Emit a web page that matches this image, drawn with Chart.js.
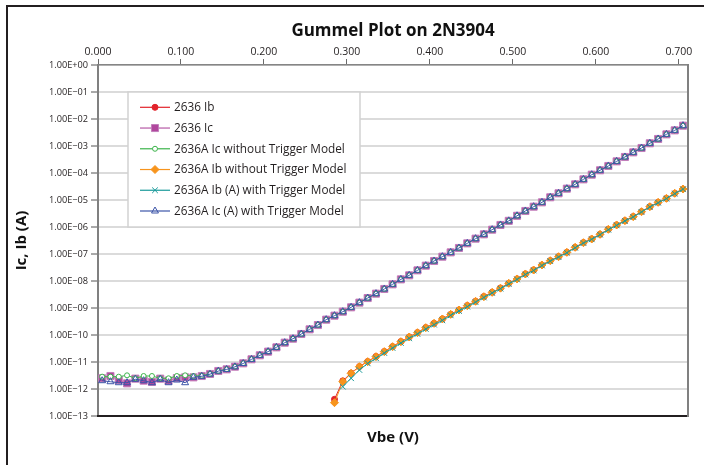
<!DOCTYPE html>
<html><head><meta charset="utf-8">
<script src="https://cdn.jsdelivr.net/npm/chart.js@4.4.1/dist/chart.umd.min.js"></script>
<style>
html,body{margin:0;padding:0;background:#fff;overflow:hidden;width:704px;height:465px;}
#frame{position:absolute;left:6px;top:5px;width:1000px;height:1000px;border:2.5px solid #231f20;box-sizing:border-box;}
#c{position:absolute;left:0;top:0;}
</style></head><body>
<div id="frame"></div>
<canvas id="c" width="704" height="465"></canvas>
<script>
const vbe = [0.005,0.015,0.025,0.035,0.045,0.055,0.065,0.075,0.085,0.095,
  0.105,0.115,0.125,0.135,0.145,0.155,0.165,0.175,0.185,0.195,
  0.205,0.215,0.225,0.235,0.245,0.255,0.265,0.275,0.285,0.295,
  0.305,0.315,0.325,0.335,0.345,0.355,0.365,0.375,0.385,0.395,
  0.405,0.415,0.425,0.435,0.445,0.455,0.465,0.475,0.485,0.495,
  0.505,0.515,0.525,0.535,0.545,0.555,0.565,0.575,0.585,0.595,
  0.605,0.615,0.625,0.635,0.645,0.655,0.665,0.675,0.685,0.695,0.705];

const ib2636 = [null,null,null,null,null,null,null,null,null,null,
  null,null,null,null,null,null,null,null,null,null,
  null,null,null,null,null,null,null,null,4.15e-13,2.0e-12,
  3.9e-12,6.8e-12,1.04e-11,1.6e-11,2.45e-11,3.72e-11,5.7e-11,8.5e-11,1.23e-10,1.88e-10,
  2.72e-10,3.95e-10,5.85e-10,8.5e-10,1.23e-9,1.78e-9,2.65e-9,3.82e-9,5.45e-9,8.2e-9,
  1.2e-8,1.82e-8,2.56e-8,3.92e-8,5.68e-8,8.0e-8,1.16e-7,1.77e-7,2.64e-7,3.62e-7,
  5.36e-7,8.2e-7,1.19e-6,1.72e-6,2.43e-6,3.7e-6,5.66e-6,8.2e-6,1.15e-5,1.77e-5,2.56e-5];

const ic2636 = [2.49e-12,3.03e-12,2.15e-12,1.62e-12,2.42e-12,2.04e-12,1.82e-12,2.42e-12,2.04e-12,2.55e-12,
  2.70e-12,2.70e-12,3.03e-12,3.60e-12,4.65e-12,5.35e-12,6.71e-12,8.93e-12,1.26e-11,1.77e-11,
  2.42e-11,3.49e-11,5.20e-11,7.31e-11,1.09e-10,1.62e-10,2.34e-10,3.70e-10,5.20e-10,7.31e-10,
  1.06e-9,1.58e-9,2.34e-9,3.40e-9,5.06e-9,7.53e-9,1.15e-8,1.62e-8,2.48e-8,3.70e-8,
  5.51e-8,7.96e-8,1.15e-7,1.67e-7,2.48e-7,3.70e-7,5.35e-7,7.96e-7,1.19e-6,1.69e-6,
  2.60e-6,3.92e-6,5.66e-6,8.20e-6,1.26e-5,1.77e-5,2.63e-5,3.80e-5,5.82e-5,8.67e-5,
  1.26e-4,1.82e-4,2.70e-4,3.92e-4,5.82e-4,8.43e-4,1.26e-3,1.82e-3,2.70e-3,3.80e-3,5.66e-3];

const ic2636ANoTrig = [2.86e-12,2.86e-12,2.86e-12,3.21e-12,2.49e-12,3.03e-12,3.03e-12,2.49e-12,2.49e-12,3.03e-12,
  3.21e-12,3.03e-12,3.10e-12,3.62e-12,4.60e-12,5.40e-12,6.75e-12,9.00e-12,1.27e-11,1.78e-11,
  2.44e-11,3.50e-11,5.20e-11,7.30e-11,1.09e-10,1.62e-10,2.35e-10,3.70e-10,5.20e-10,7.30e-10,
  1.06e-9,1.58e-9,2.34e-9,3.40e-9,5.06e-9,7.53e-9,1.15e-8,1.62e-8,2.48e-8,3.70e-8,
  5.51e-8,7.96e-8,1.15e-7,1.67e-7,2.48e-7,3.70e-7,5.35e-7,7.96e-7,1.19e-6,1.69e-6,
  2.60e-6,3.92e-6,5.66e-6,8.20e-6,1.26e-5,1.77e-5,2.63e-5,3.80e-5,5.82e-5,8.67e-5,
  1.26e-4,1.82e-4,2.70e-4,3.92e-4,5.82e-4,8.43e-4,1.26e-3,1.82e-3,2.70e-3,3.80e-3,5.66e-3];

const ib2636ANoTrig = [null,null,null,null,null,null,null,null,null,null,
  null,null,null,null,null,null,null,null,null,null,
  null,null,null,null,null,null,null,null,3.12e-13,1.87e-12,
  3.80e-12,6.71e-12,1.03e-11,1.58e-11,2.42e-11,3.70e-11,5.66e-11,8.43e-11,1.22e-10,1.87e-10,
  2.70e-10,3.92e-10,5.82e-10,8.43e-10,1.22e-9,1.77e-9,2.63e-9,3.80e-9,5.43e-9,8.20e-9,
  1.19e-8,1.82e-8,2.55e-8,3.92e-8,5.66e-8,7.96e-8,1.15e-7,1.77e-7,2.63e-7,3.60e-7,
  5.35e-7,8.20e-7,1.19e-6,1.72e-6,2.42e-6,3.70e-6,5.66e-6,8.20e-6,1.15e-5,1.77e-5,2.55e-5];

const ib2636ATrig = [null,null,null,null,null,null,null,null,null,null,
  null,null,null,null,null,null,null,null,null,null,
  null,null,null,null,null,null,null,null,null,1.22e-12,
  2.5e-12,5.06e-12,8.9e-12,1.38e-11,2.15e-11,3.3e-11,5.06e-11,7.53e-11,1.09e-10,1.67e-10,
  2.42e-10,3.49e-10,5.35e-10,7.74e-10,1.12e-9,1.65e-9,2.45e-9,3.6e-9,5.2e-9,7.8e-9,
  1.14e-8,1.74e-8,2.45e-8,3.75e-8,5.45e-8,7.7e-8,1.11e-7,1.7e-7,2.55e-7,3.5e-7,
  5.2e-7,7.9e-7,1.15e-6,1.67e-6,2.35e-6,3.6e-6,5.5e-6,7.9e-6,1.12e-5,1.72e-5,2.5e-5];

const ic2636ATrig = [2.03e-12,1.86e-12,1.71e-12,1.71e-12,2.29e-12,2.03e-12,1.71e-12,2.29e-12,1.71e-12,2.15e-12,
  1.71e-12,2.71e-12,2.95e-12,3.55e-12,4.60e-12,5.30e-12,6.60e-12,8.80e-12,1.25e-11,1.76e-11,
  2.42e-11,3.49e-11,5.20e-11,7.31e-11,1.09e-10,1.62e-10,2.34e-10,3.70e-10,5.20e-10,7.31e-10,
  1.06e-9,1.58e-9,2.34e-9,3.40e-9,5.06e-9,7.53e-9,1.15e-8,1.62e-8,2.48e-8,3.70e-8,
  5.51e-8,7.96e-8,1.15e-7,1.67e-7,2.48e-7,3.70e-7,5.35e-7,7.96e-7,1.19e-6,1.69e-6,
  2.60e-6,3.92e-6,5.66e-6,8.20e-6,1.26e-5,1.77e-5,2.63e-5,3.80e-5,5.82e-5,8.67e-5,
  1.26e-4,1.82e-4,2.70e-4,3.92e-4,5.82e-4,8.43e-4,1.26e-3,1.82e-3,2.70e-3,3.80e-3,5.66e-3];

const seriesLabels = ['2636 Ib','2636 Ic','2636A Ic without Trigger Model','2636A Ib without Trigger Model','2636A Ib (A) with Trigger Model','2636A Ic (A) with Trigger Model'];

const xTickValues = [0,0.1,0.2,0.3,0.4,0.5,0.6,0.7];
const xTickLabels = ['0.000','0.100','0.200','0.300','0.400','0.500','0.600','0.700'];
const yTickValues = [1e-13,1e-12,1e-11,1e-10,1e-9,1e-8,1e-7,1e-6,1e-5,1e-4,1e-3,1e-2,1e-1,1];
const yTickLabels = ['1.00E\u221213','1.00E\u221212','1.00E\u221211','1.00E\u221210','1.00E\u221209','1.00E\u221208','1.00E\u221207','1.00E\u221206','1.00E\u221205','1.00E\u221204','1.00E\u221203','1.00E\u221202','1.00E\u221201','1.00E+00'];

const FONT = "'Open Sans', 'Noto Sans', sans-serif";
function pts(ys){ return vbe.map((x,i)=>({x:x, y:ys[i]})); }

function mk(label, ys, color, fill, style, r, order, lineColor){
  return {label:label, data:pts(ys), borderColor:lineColor||color, backgroundColor:fill,
    pointBackgroundColor:fill, pointBorderColor:color, pointStyle:style, pointRadius:r,
    pointBorderWidth:1, borderWidth:1, tension:0, spanGaps:false, order:order};
}

const datasets = [
  mk(seriesLabels[0], ib2636, '#e2232b', '#e2232b', 'circle', 3, 6),
  mk(seriesLabels[1], ic2636, '#c27fbb', '#b1479d', 'rect', 5, 5, '#b65aa6'),
  mk(seriesLabels[2], ic2636ANoTrig, '#3cb44b', '#ffffff', 'circle', 2.5, 4),
  mk(seriesLabels[3], ib2636ANoTrig, '#f7941d', '#f7941d', 'rectRot', 4, 3),
  mk(seriesLabels[4], ib2636ATrig, '#1a9a9a', '#1a9a9a', 'crossRot', 4, 2),
  mk(seriesLabels[5], ic2636ATrig, '#3d55a8', 'rgba(255,255,255,0)', 'triangle', 4, 1)
];

const boxLegend = {
  id:'boxLegend',
  afterDatasetsDraw(chart){
    const ctx = chart.ctx;
    const L = 128, T = 92, R = 360, B = 227;
    ctx.save();
    ctx.fillStyle = '#ffffff';
    ctx.fillRect(L, T, R-L, B-T);
    ctx.strokeStyle = '#d2d2d2'; ctx.lineWidth = 1.5;
    ctx.strokeRect(L, T, R-L, B-T);
    chart.data.datasets.forEach((ds, i) => {
      const y = 107.3 + i*20.74;
      ctx.strokeStyle = ds.borderColor; ctx.lineWidth = 1.2;
      ctx.beginPath(); ctx.moveTo(140, y); ctx.lineTo(170, y); ctx.stroke();
      ctx.fillStyle = ds.pointBackgroundColor; ctx.strokeStyle = ds.pointBorderColor; ctx.lineWidth = 1;
      if (Chart.helpers && Chart.helpers.drawPoint) {
        Chart.helpers.drawPoint(ctx, {pointStyle: ds.pointStyle, radius: ds.pointRadius, rotation: 0, borderWidth: 1}, 155, y);
      } else {
        ctx.beginPath(); ctx.arc(155, y, ds.pointRadius, 0, Math.PI*2); ctx.fill(); ctx.stroke();
      }
      ctx.fillStyle = '#231f20'; ctx.font = '11.8px ' + FONT;
      ctx.textBaseline = 'middle'; ctx.textAlign = 'left';
      ctx.fillText(ds.label, 174, y + 0.5);
    });
    ctx.restore();
  }
};

new Chart(document.getElementById('c'), {
  type: 'line',
  data: { datasets: datasets },
  plugins: [boxLegend],
  options: {
    responsive: false, animation: false, devicePixelRatio: 1,
    layout: { padding: 0 },
    plugins: {
      legend: { display: false },
      tooltip: { enabled: false },
      title: { display: true, text: 'Gummel Plot on 2N3904', fullSize: false, color: '#111',
        font: { family: FONT, size: 17, weight: 'bold' }, padding: { top: 21, bottom: 3.6 } }
    },
    scales: {
      x: {
        type: 'linear', position: 'top', min: 0, max: 0.711, bounds: 'data',
        afterBuildTicks: s => { s.ticks = xTickValues.map(v => ({ value: v })); },
        afterFit: s => { s.height = 20; },
        ticks: { callback: (v, i) => xTickLabels[i], color: '#231f20', font: { family: FONT, size: 10.5 }, padding: 1, maxRotation: 0, autoSkip: false },
        grid: { display: true, drawOnChartArea: false, drawTicks: true, tickLength: 6, tickColor: '#6a6a6a', tickWidth: 1 },
        border: { display: true, color: '#858585', width: 1.5 }
      },
      y: {
        type: 'logarithmic', position: 'left', min: 1e-13, max: 1,
        afterBuildTicks: s => { s.ticks = yTickValues.map(v => ({ value: v })); },
        afterFit: s => { s.width = 98; },
        ticks: { callback: (v, i) => yTickLabels[i], color: '#231f20', font: { family: FONT, size: 9.2 }, padding: 3, autoSkip: false },
        grid: { color: '#dbdbdb', lineWidth: 2, tickLength: 7, tickColor: '#555', tickWidth: 1 },
        border: { display: true, color: '#808080', width: 2 },
        title: { display: true, text: 'Ic, Ib (A)', color: '#111', font: { family: FONT, size: 15, weight: 'bold' }, padding: { top: 13, bottom: 0 } }
      },
      x2: {
        type: 'linear', position: 'bottom', min: 0, max: 0.711,
        afterFit: s => { s.height = 49; },
        ticks: { display: false },
        grid: { display: false, drawTicks: false },
        border: { display: true, color: '#231f20', width: 2 },
        title: { display: true, text: 'Vbe (V)', color: '#111', font: { family: FONT, size: 15, weight: 'bold' }, padding: { top: 0, bottom: 18 } }
      },
      y2: {
        type: 'linear', position: 'right',
        afterFit: s => { s.width = 16; },
        ticks: { display: false },
        grid: { display: false, drawTicks: false },
        border: { display: true, color: '#808080', width: 2 }
      }
    }
  }
});
</script>
</body></html>
